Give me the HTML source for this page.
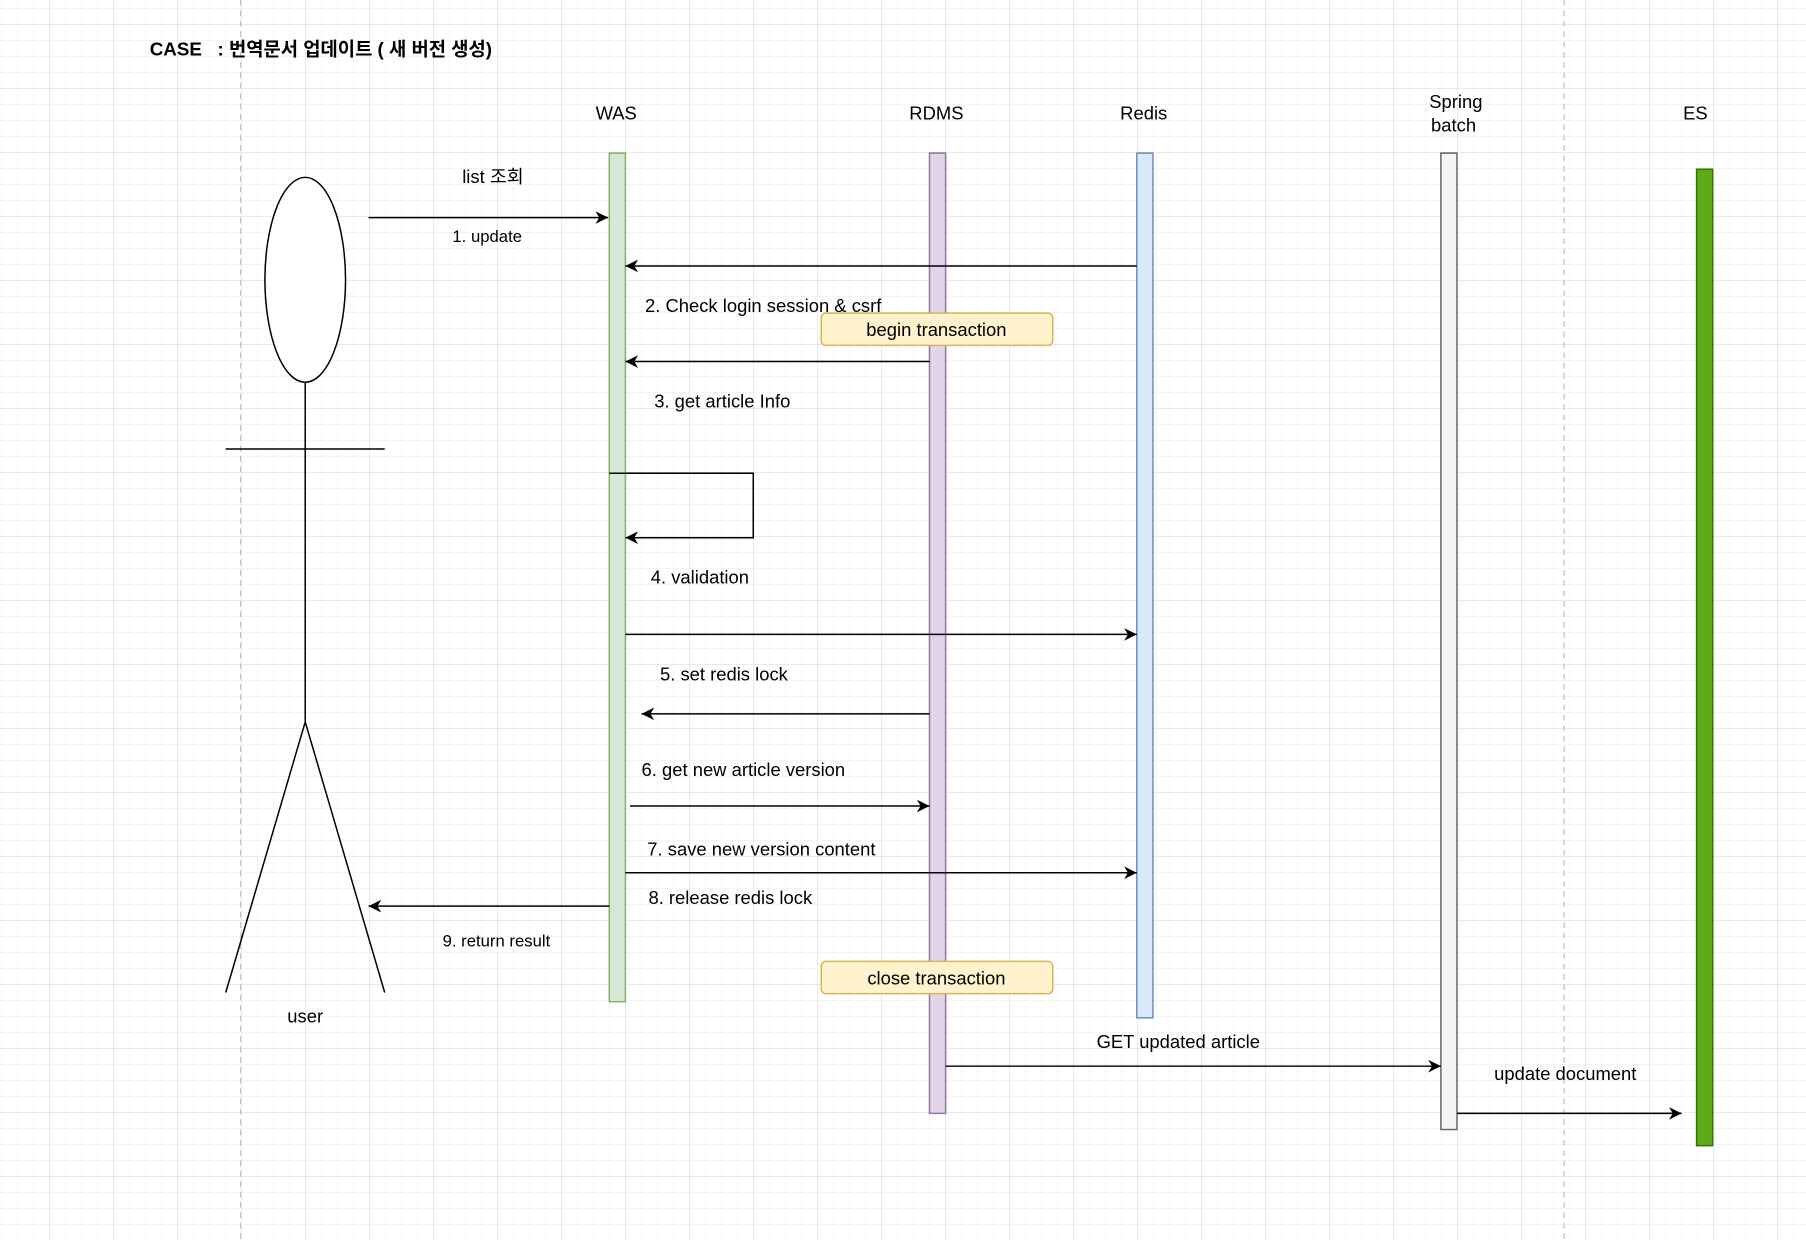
<!DOCTYPE html>
<html><head><meta charset="utf-8"><style>
html,body{margin:0;padding:0;background:#fff;}
svg{display:block;}
text{font-family:"Liberation Sans","Noto Sans CJK KR",sans-serif;fill:#000;}
</style></head><body>
<svg width="1806" height="1240" viewBox="0 0 1806 1240" xmlns="http://www.w3.org/2000/svg">
<defs>
<pattern id="minor" x="1" y="8" width="16" height="16" patternUnits="userSpaceOnUse">
<path d="M0 0H16M0 0V16" stroke="#ebebeb" stroke-width="1" fill="none"/>
</pattern>
<pattern id="major" x="49" y="24" width="64" height="64" patternUnits="userSpaceOnUse">
<path d="M0 0H64M0 0V64" stroke="#d4d4d4" stroke-width="1" fill="none"/>
</pattern>
<marker id="ah" viewBox="0 0 10 10" refX="10" refY="5" markerWidth="11" markerHeight="11" markerUnits="userSpaceOnUse" orient="auto">
<path d="M0 0L10 5L0 10L3 5Z" fill="#000"/>
</marker>
</defs>
<rect width="1806" height="1240" fill="url(#minor)"/>
<rect width="1806" height="1240" fill="url(#major)"/>
<g transform="scale(1.15179,1.15139)">
<line x1="209" y1="0" x2="209" y2="1077" stroke="#bbb" stroke-dasharray="5,4"/>
<line x1="1358" y1="0" x2="1358" y2="1077" stroke="#bbb" stroke-dasharray="5,4"/>
<text x="130" y="48" font-size="16.3" font-weight="bold">CASE &#160;&#160;: 번역문서 업데이트 ( 새 버전 생성)</text>
<g font-size="16" text-anchor="middle">
<text x="535" y="104">WAS</text>
<text x="813" y="104">RDMS</text>
<text x="993" y="104">Redis</text>
<text x="1264" y="94">Spring</text>
<text x="1262" y="114">batch</text>
<text x="1472" y="104">ES</text>
</g>
<rect x="529" y="133" width="14" height="737" fill="#d5e8d4" stroke="#82b366" stroke-width="1.3"/>
<rect x="807" y="133" width="14" height="834" fill="#e1d5e7" stroke="#9673a6" stroke-width="1.3"/>
<rect x="987" y="133" width="14" height="751" fill="#dae8fc" stroke="#6c8ebf" stroke-width="1.3"/>
<rect x="1251" y="133" width="14" height="848" fill="#f5f5f5" stroke="#666" stroke-width="1.3"/>
<rect x="1473" y="147" width="14" height="848" fill="#60a917" stroke="#2d7600" stroke-width="1.3"/>
<g stroke="#000" stroke-width="1.3" fill="none">
<ellipse cx="265" cy="243" rx="35" ry="89" fill="#fff"/>
<line x1="265" y1="332" x2="265" y2="627"/>
<line x1="196" y1="390" x2="334" y2="390"/>
<line x1="265" y1="627" x2="196" y2="862"/>
<line x1="265" y1="627" x2="334" y2="862"/>
</g>
<text x="265" y="888" font-size="16" text-anchor="middle">user</text>
<rect x="713" y="272" width="201" height="28" rx="4" fill="#fff2cc" stroke="#d6b656" stroke-width="1.3"/>
<rect x="713" y="835" width="201" height="28" rx="4" fill="#fff2cc" stroke="#d6b656" stroke-width="1.3"/>
<g stroke="#000" stroke-width="1.3" fill="none" marker-end="url(#ah)">
<line x1="320" y1="189" x2="528" y2="189"/>
<line x1="987" y1="231" x2="543" y2="231"/>
<line x1="807" y1="314" x2="543" y2="314"/>
<path d="M529 411H654V467H543"/>
<line x1="543" y1="551" x2="987" y2="551"/>
<line x1="807" y1="620" x2="557" y2="620"/>
<line x1="547" y1="700" x2="807" y2="700"/>
<line x1="543" y1="758" x2="987" y2="758"/>
<line x1="529" y1="787" x2="320" y2="787"/>
<line x1="821" y1="926" x2="1251" y2="926"/>
<line x1="1265" y1="967" x2="1460" y2="967"/>
</g>
<g font-size="16">
<text x="428" y="159" text-anchor="middle">list 조회</text>
<text x="423" y="210" font-size="14.5" text-anchor="middle">1. update</text>
<text x="560" y="271">2. Check login session &amp; csrf</text>
<text x="813" y="292" text-anchor="middle">begin transaction</text>
<text x="568" y="354">3. get article Info</text>
<text x="565" y="507">4. validation</text>
<text x="573" y="591">5. set redis lock</text>
<text x="557" y="674">6. get new article version</text>
<text x="562" y="743">7. save new version content</text>
<text x="563" y="785">8. release redis lock</text>
<text x="431" y="822" font-size="14.5" text-anchor="middle">9. return result</text>
<text x="813" y="855" text-anchor="middle">close transaction</text>
<text x="1023" y="910" text-anchor="middle">GET updated article</text>
<text x="1359" y="938" text-anchor="middle">update document</text>
</g>
</g>
</svg>
</body></html>
